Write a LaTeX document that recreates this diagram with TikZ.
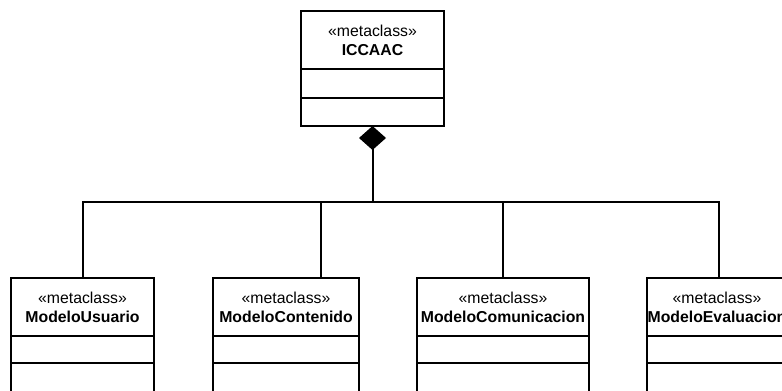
\documentclass[tikz,border=0pt]{standalone}
\usepackage{fontspec}
\setmainfont{Liberation Sans}
\usetikzlibrary{arrows.meta}
\begin{document}
\begin{tikzpicture}[x=1pt,y=-1pt,
  every node/.style={inner sep=0pt, outer sep=0pt},
  umlhead/.style={draw, line width=2pt, minimum height=58pt, anchor=north,
    align=center, font=\fontsize{15.8}{19}\selectfont},
  umlpart/.style={draw, line width=2pt, anchor=north},
  link/.style={line width=2pt},
  ]
\useasboundingbox (0,0) rectangle (782,391);

% composite metaclass
\node[umlhead, minimum width=143pt] (top) at (372.5,11) {«metaclass»\\\textbf{ICCAAC}};
\node[umlpart, minimum width=143pt, minimum height=29pt] (topA) at (top.south) {};
\node[umlpart, minimum width=143pt, minimum height=28pt] (topB) at (topA.south) {};

% component metaclasses
\node[umlhead, minimum width=143pt] (usu) at (82.5,278) {«metaclass»\\\textbf{ModeloUsuario}};
\node[umlpart, minimum width=143pt, minimum height=27pt] (usuA) at (usu.south) {};
\node[umlpart, minimum width=143pt, minimum height=60pt] (usuB) at (usuA.south) {};

\node[umlhead, minimum width=146pt] (cont) at (286,278) {«metaclass»\\\textbf{ModeloContenido}};
\node[umlpart, minimum width=146pt, minimum height=27pt] (contA) at (cont.south) {};
\node[umlpart, minimum width=146pt, minimum height=60pt] (contB) at (contA.south) {};

\node[umlhead, minimum width=172pt] (comu) at (503,278) {«metaclass»\\\textbf{ModeloComunicacion}};
\node[umlpart, minimum width=172pt, minimum height=27pt] (comuA) at (comu.south) {};
\node[umlpart, minimum width=172pt, minimum height=60pt] (comuB) at (comuA.south) {};

\node[umlhead, minimum width=140pt] (eval) at (717,278) {«metaclass»\\\textbf{ModeloEvaluacion}};
\node[umlpart, minimum width=140pt, minimum height=27pt] (evalA) at (eval.south) {};
\node[umlpart, minimum width=140pt, minimum height=60pt] (evalB) at (evalA.south) {};

% composition: diamond on the whole, tree of lines to the parts
\coordinate (hub) at (372.5,202);
\draw[link, {Diamond[length=24pt,width=27pt]}-] (topB.south) -- (hub);
\draw[link] (usu.north) |- (hub);
\draw[link] ([xshift=35pt]cont.north) |- (hub);
\draw[link] (comu.north) |- (hub);
\draw[link] ([xshift=2pt]eval.north) |- (hub);
\end{tikzpicture}
\end{document}
